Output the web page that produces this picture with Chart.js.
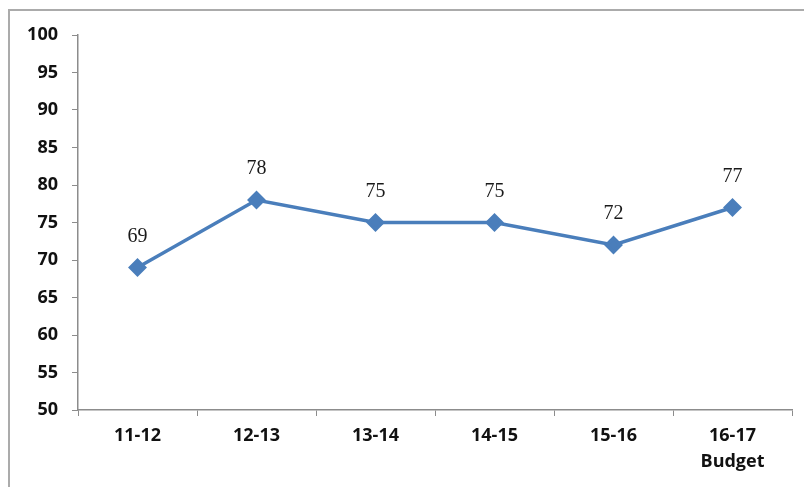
<!DOCTYPE html>
<html>
<head>
<meta charset="utf-8">
<script src="https://cdn.jsdelivr.net/npm/chart.js@4"></script>
<style>
  html, body { margin: 0; padding: 0; background: #fff; }
  #wrap { width: 804px; height: 487px; }
</style>
</head>
<body>
<div id="wrap"><canvas id="lineChart" width="804" height="487"></canvas></div>
<script>
const years = [['11-12'], ['12-13'], ['13-14'], ['14-15'], ['15-16'], ['16-17', 'Budget']];
const values = [69, 78, 75, 75, 72, 77];
const yMin = 50;
const yMax = 100;
const yStep = 5;

const lineBlue = '#4a7ebb';
const axisGray = '#8c8c8c';

// outer frame (only top and left edges show in the cropped picture)
const framePlugin = {
    id: 'frame',
    beforeDraw(chart) {
        const ctx = chart.ctx;
        ctx.save();
        ctx.strokeStyle = '#ababab';
        ctx.lineWidth = 2;
        ctx.beginPath();
        ctx.moveTo(9, 487);
        ctx.lineTo(9, 10);
        ctx.lineTo(804, 10);
        ctx.stroke();
        ctx.restore();
    }
};

// value labels above each point
const labelPlugin = {
    id: 'pointLabels',
    afterDatasetsDraw(chart) {
        const ctx = chart.ctx;
        const meta = chart.getDatasetMeta(0);
        ctx.save();
        ctx.font = '20px "Liberation Serif", serif';
        ctx.fillStyle = '#1a1a1a';
        ctx.textAlign = 'center';
        ctx.textBaseline = 'middle';
        meta.data.forEach((pt, i) => {
            ctx.fillText(values[i], pt.x, pt.y - 31);
        });
        ctx.restore();
    }
};

const ctxLine = document.getElementById('lineChart').getContext('2d');

let lineChart = new Chart(ctxLine, {
    type: 'line',
    data: {
        labels: years,
        datasets: [{
            data: values,
            borderColor: lineBlue,
            backgroundColor: lineBlue,
            borderWidth: 3.5,
            pointStyle: 'rectRot',
            pointRadius: 7,
            pointHoverRadius: 7,
            tension: 0
        }]
    },
    options: {
        responsive: false,
        animation: false,
        layout: {
            padding: { left: 0, right: 12, top: 35, bottom: 0 }
        },
        plugins: {
            legend: { display: false },
            tooltip: { enabled: false }
        },
        scales: {
            x: {
                offset: true,
                border: { color: axisGray, width: 1.5 },
                grid: {
                    offset: true,
                    drawOnChartArea: false,
                    drawTicks: true,
                    tickLength: 6,
                    color: axisGray
                },
                ticks: {
                    color: '#111',
                    padding: 7,
                    maxRotation: 0,
                    font: { family: '"Open Sans", sans-serif', size: 18, weight: 'bold', lineHeight: 1.45 }
                },
                afterFit(scale) { scale.height = 77; }
            },
            y: {
                min: yMin,
                max: yMax,
                border: { color: axisGray, width: 1.5 },
                grid: {
                    drawOnChartArea: false,
                    drawTicks: true,
                    tickLength: 6,
                    color: axisGray
                },
                ticks: {
                    stepSize: yStep,
                    color: '#111',
                    padding: 14,
                    font: { family: '"Open Sans", sans-serif', size: 18, weight: 'bold' }
                },
                afterFit(scale) { scale.width = 78; }
            }
        }
    },
    plugins: [framePlugin, labelPlugin]
});
</script>
</body>
</html>
